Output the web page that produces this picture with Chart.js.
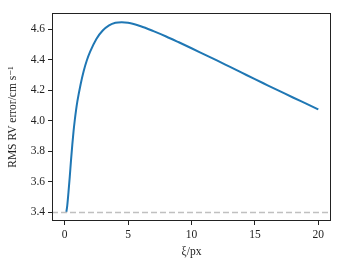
<!DOCTYPE html>
<html><head><meta charset="utf-8">
<script src="https://cdn.jsdelivr.net/npm/chart.js@4"></script>
<style>html,body{margin:0;padding:0;background:#fff}#c{display:block}</style>
</head><body>
<div style="width:345px;height:268px"><canvas id="c" width="345" height="268"></canvas></div>
<script>
const xi = [0.13,0.2,0.3,0.4,0.5,0.6,0.7,0.8,0.9,1.0,1.25,1.5,1.75,2.0,2.5,3.0,3.5,4.0,4.5,5.0,6,7,8,9,10,11,12,13,14,15,16,17,18,19,20];
const rms = [3.40,3.44,3.53,3.63,3.74,3.84,3.93,4.005,4.07,4.125,4.235,4.325,4.395,4.45,4.535,4.59,4.624,4.641,4.645,4.641,4.618,4.586,4.551,4.513,4.474,4.434,4.394,4.353,4.312,4.271,4.231,4.191,4.151,4.112,4.073];
const baselineX = [-1, 21];
const baselineY = [3.397, 3.397];
const xTicks = [0,5,10,15,20];
const yTicks = [3.4,3.6,3.8,4.0,4.2,4.4,4.6];

const font = {family:"'Liberation Serif','DejaVu Serif',serif", size:11.5};
const frame = {
  id:'frame',
  afterDatasetsDraw(ch){
    const a = ch.chartArea, c = ch.ctx;
    c.save(); c.strokeStyle='#222'; c.lineWidth=1;
    c.strokeRect(Math.round(a.left)+0.5, Math.round(a.top)+0.5, Math.round(a.right-a.left)-1, Math.round(a.bottom-a.top)-1);
    c.restore();
  }
};
new Chart(document.getElementById('c'), {
  type:'line',
  data:{datasets:[
    {data: baselineX.map((x,i)=>({x, y:baselineY[i]})), borderColor:'#c0c0c0', borderWidth:1.5, borderDash:[6,3], pointRadius:0, tension:0},
    {data: xi.map((x,i)=>({x, y:rms[i]})), borderColor:'#1f77b4', borderWidth:2, pointRadius:0, cubicInterpolationMode:'monotone'}
  ]},
  options:{
    responsive:false, animation:false, events:[],
    layout:{padding:{left:0,right:14,top:13,bottom:0}},
    plugins:{legend:{display:false}, tooltip:{enabled:false}},
    scales:{
      x:{type:'linear', min:-1, max:21,
        afterFit(s){ s.height = 47; },
        afterBuildTicks(s){ s.ticks = xTicks.map(v=>({value:v})); },
        grid:{drawOnChartArea:false, drawTicks:true, tickLength:4, color:'#222'},
        border:{display:false},
        ticks:{color:'#222', font, padding:3, maxRotation:0},
        title:{display:true, text:'ξ/px', color:'#222', font, padding:{top:0,bottom:9}}
      },
      y:{type:'linear', min:3.341, max:4.705,
        afterFit(s){ s.width = 52; },
        afterBuildTicks(s){ s.ticks = yTicks.map(v=>({value:v})); },
        grid:{drawOnChartArea:false, drawTicks:true, tickLength:4, color:'#222'},
        border:{display:false},
        ticks:{color:'#222', font, padding:3, callback:v=>v.toFixed(1)},
        title:{display:true, text:'RMS RV error/cm s⁻¹', color:'#222', font, padding:{top:6,bottom:0}}
      }
    }
  },
  plugins:[frame]
});
</script>
</body></html>
